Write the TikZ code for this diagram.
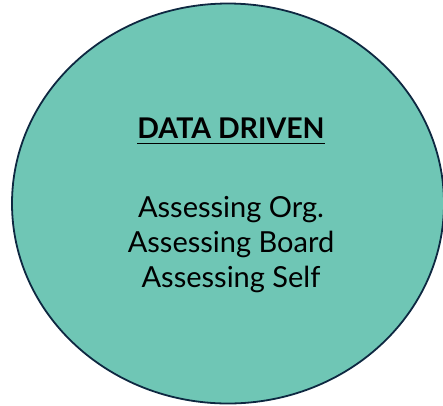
\documentclass[tikz,border=0pt]{standalone}
\usepackage{fontspec}
\setmainfont{Lato}
\usepackage{xcolor}
\usepackage{tikz}
\usetikzlibrary{positioning}
\definecolor{teal-fill}{RGB}{111,198,181}
\definecolor{navy-line}{RGB}{14,40,65}
\tikzset{bubble-line/.style={line width=1.8pt, draw=navy-line, fill=teal-fill}}
\tikzset{bubble-text/.style={inner sep=0, anchor=base, font=\fontsize{29}{35}\selectfont}}

\begin{document}
\begin{tikzpicture}[x=1pt, y=-1pt]
            \useasboundingbox (0,0) rectangle (443,405);

            \draw[bubble-line] (228,203.5) ellipse [x radius=216, y radius=200];

            \node[bubble-text, font=\fontsize{28.5}{30}\bfseries] (title) at (231,138) {DATA DRIVEN};
            \draw[line width=1.6pt] ([yshift=-5.5pt]title.base west) -- ([yshift=-5.5pt]title.base east);

            \node[bubble-text] (line1) at ([yshift=-79pt]title.base) {Assessing Org.};
            \node[bubble-text] (line2) at ([yshift=-35pt]line1.base) {Assessing Board};
            \node[bubble-text] (line3) at ([yshift=-35pt]line2.base) {Assessing Self};
        \end{tikzpicture}
\end{document}
